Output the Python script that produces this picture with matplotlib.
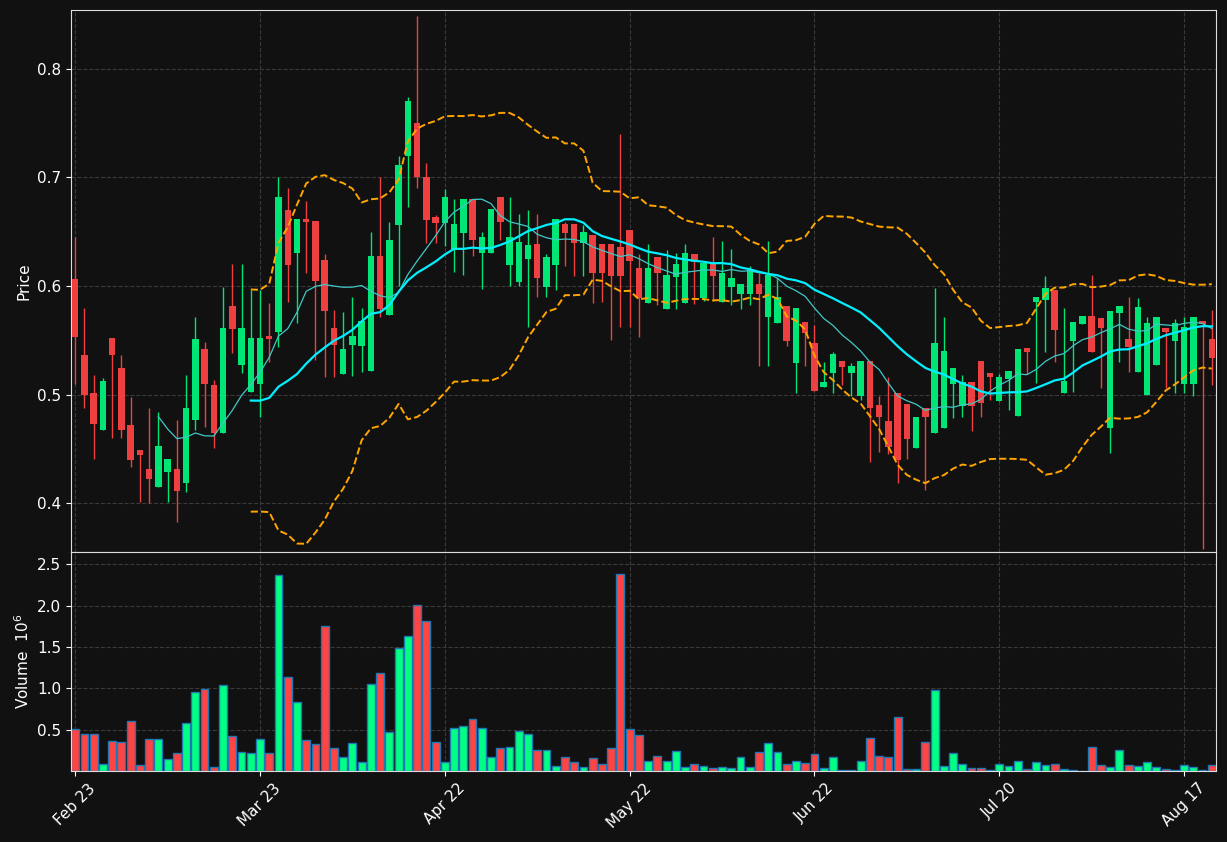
import matplotlib
matplotlib.use("Agg")
import matplotlib.pyplot as plt
import numpy as np
import pandas as pd

opens = [0.605,0.535,0.500,0.467,0.551,0.523,0.470,0.447,0.430,0.415,0.429,0.430,0.419,0.477,0.540,0.507,0.465,0.580,0.527,0.502,
         0.510,0.552,0.558,0.668,0.630,0.660,0.658,0.622,0.560,0.519,0.546,0.545,0.522,0.626,0.573,0.656,0.720,0.749,0.699,0.662,
         0.658,0.634,0.649,0.679,0.630,0.630,0.680,0.619,0.604,0.625,0.637,0.599,0.619,0.656,0.656,0.640,0.645,0.637,0.637,0.634,
         0.650,0.615,0.584,0.625,0.579,0.608,0.584,0.628,0.589,0.620,0.585,0.599,0.593,0.593,0.600,0.571,0.566,0.580,0.529,0.565,
         0.546,0.507,0.520,0.529,0.520,0.499,0.529,0.489,0.474,0.500,0.490,0.451,0.486,0.465,0.469,0.510,0.489,0.510,0.529,0.518,
         0.494,0.514,0.480,0.541,0.585,0.587,0.595,0.501,0.549,0.565,0.571,0.569,0.469,0.575,0.550,0.521,0.500,0.527,0.560,0.549,
         0.510,0.510,0.566,0.550]
closes = [0.553,0.500,0.473,0.511,0.536,0.467,0.440,0.444,0.422,0.451,0.439,0.411,0.486,0.550,0.510,0.465,0.560,0.560,0.560,0.551,
          0.551,0.551,0.680,0.619,0.660,0.659,0.605,0.577,0.546,0.540,0.552,0.566,0.626,0.579,0.641,0.710,0.769,0.700,0.661,0.658,
          0.680,0.656,0.679,0.642,0.644,0.669,0.659,0.644,0.639,0.636,0.607,0.625,0.660,0.649,0.640,0.648,0.612,0.612,0.609,0.609,
          0.623,0.589,0.615,0.612,0.609,0.619,0.629,0.622,0.620,0.609,0.610,0.606,0.600,0.614,0.593,0.609,0.588,0.549,0.578,0.557,
          0.503,0.510,0.536,0.525,0.525,0.529,0.488,0.479,0.452,0.440,0.459,0.478,0.479,0.546,0.539,0.523,0.510,0.489,0.492,0.516,
          0.515,0.520,0.540,0.539,0.588,0.597,0.559,0.511,0.565,0.571,0.539,0.561,0.575,0.580,0.544,0.579,0.564,0.570,0.558,0.564,
          0.561,0.570,0.565,0.534]
highs = [0.645,0.580,0.518,0.515,0.551,0.536,0.498,0.447,0.488,0.484,0.440,0.477,0.518,0.571,0.548,0.513,0.599,0.620,0.620,0.596,
         0.596,0.584,0.700,0.690,0.661,0.678,0.659,0.629,0.578,0.576,0.590,0.580,0.650,0.700,0.659,0.720,0.774,0.849,0.713,0.665,
         0.689,0.680,0.680,0.680,0.650,0.669,0.680,0.682,0.666,0.670,0.666,0.629,0.660,0.659,0.656,0.656,0.645,0.637,0.637,0.740,
         0.650,0.629,0.639,0.627,0.633,0.630,0.639,0.628,0.620,0.645,0.641,0.634,0.600,0.618,0.612,0.641,0.607,0.580,0.580,0.565,
         0.564,0.530,0.539,0.529,0.529,0.529,0.529,0.499,0.516,0.500,0.490,0.478,0.486,0.598,0.571,0.523,0.518,0.510,0.529,0.518,
         0.519,0.520,0.540,0.541,0.588,0.609,0.595,0.580,0.565,0.571,0.610,0.569,0.575,0.580,0.590,0.589,0.571,0.570,0.560,0.570,
         0.571,0.570,0.566,0.578]
lows = [0.510,0.488,0.441,0.467,0.460,0.460,0.433,0.401,0.400,0.415,0.401,0.383,0.410,0.467,0.470,0.451,0.465,0.538,0.520,0.502,
        0.479,0.530,0.544,0.585,0.566,0.612,0.532,0.516,0.516,0.519,0.517,0.521,0.522,0.571,0.573,0.600,0.673,0.690,0.640,0.640,
        0.637,0.613,0.610,0.628,0.597,0.630,0.642,0.600,0.600,0.562,0.590,0.590,0.596,0.618,0.609,0.609,0.584,0.585,0.550,0.562,
        0.562,0.553,0.584,0.582,0.579,0.579,0.584,0.583,0.586,0.586,0.585,0.582,0.579,0.582,0.526,0.526,0.566,0.545,0.501,0.526,
        0.503,0.507,0.501,0.509,0.499,0.495,0.438,0.447,0.445,0.419,0.441,0.451,0.412,0.465,0.469,0.478,0.479,0.466,0.479,0.495,
        0.494,0.486,0.480,0.519,0.511,0.539,0.530,0.501,0.502,0.565,0.539,0.506,0.446,0.530,0.521,0.521,0.500,0.527,0.506,0.501,
        0.501,0.499,0.358,0.509]
volumes = [0.506,0.445,0.445,0.081,0.360,0.348,0.603,0.069,0.385,0.385,0.142,0.215,0.579,0.955,0.992,0.045,1.040,0.421,0.227,0.215,
           0.385,0.215,2.376,1.138,0.834,0.372,0.324,1.757,0.275,0.166,0.336,0.105,1.053,1.186,0.470,1.490,1.636,2.012,1.818,0.348,
           0.105,0.518,0.543,0.628,0.518,0.166,0.275,0.287,0.482,0.445,0.251,0.251,0.057,0.166,0.105,0.045,0.154,0.081,0.275,2.389,
           0.506,0.433,0.117,0.178,0.117,0.239,0.045,0.081,0.057,0.032,0.045,0.032,0.166,0.045,0.227,0.336,0.227,0.081,0.117,0.093,
           0.202,0.032,0.166,0.010,0.010,0.117,0.397,0.178,0.166,0.652,0.020,0.020,0.348,0.980,0.057,0.215,0.081,0.032,0.032,0.010,
           0.081,0.057,0.117,0.020,0.105,0.069,0.081,0.020,0.010,0.005,0.287,0.069,0.045,0.251,0.069,0.057,0.105,0.045,0.020,0.010,
           0.069,0.045,0.010,0.069]
tick_idx = [0, 20, 40, 60, 80, 100, 120]
tick_labels = ["Feb 23", "Mar 23", "Apr 22", "May 22", "Jun 22", "Jul 20", "Aug 17"]

BG = "#111111"
GREEN_C, RED_C = "#00e676", "#ee4040"
GREEN_V, RED_V = "#00ff83", "#ff4444"

o = np.array(opens); c = np.array(closes); h = np.array(highs); l = np.array(lows); v = np.array(volumes)
x = np.arange(len(o))
up = c >= o

fig = plt.figure(figsize=(12.27, 8.42), dpi=100, facecolor=BG)
ax = fig.add_axes([0.0579, 0.3444, 0.9331, 0.6436], facecolor=BG)
axv = fig.add_axes([0.0579, 0.0843, 0.9331, 0.2601], facecolor=BG, sharex=ax)

for a in (ax, axv):
    a.grid(True, color="#3a3a3a", linestyle="--", linewidth=0.8)
    a.set_axisbelow(True)
    for s in a.spines.values():
        s.set_color("#dddddd")
    a.tick_params(colors="white", labelsize=11)

cols = np.where(up, GREEN_C, RED_C)
ax.vlines(x, l, h, colors=cols, linewidth=1, zorder=2)
ax.bar(x, np.abs(c - o) + 0.0015, bottom=np.minimum(o, c), width=0.7, color=cols, zorder=3)

cs = pd.Series(c)
sma10 = cs.rolling(10).mean()
sma20 = cs.rolling(20).mean()
std20 = cs.rolling(20).std()
ax.plot(x, sma10, color="#40c8c8", linewidth=0.9, zorder=4)
ax.plot(x, sma20, color="#00f0ff", linewidth=1.6, zorder=4)
ax.plot(x, sma20 + 2 * std20, color="orange", linestyle="--", linewidth=1.4, zorder=4)
ax.plot(x, sma20 - 2 * std20, color="orange", linestyle="--", linewidth=1.4, zorder=4)

ax.set_ylim(0.355, 0.854)
ax.set_yticks([0.4, 0.5, 0.6, 0.7, 0.8])
ax.set_ylabel("Price", color="white", fontsize=11)
ax.tick_params(axis="x", labelbottom=False)

axv.bar(x, v, width=0.85, color=np.where(up, GREEN_V, RED_V), edgecolor="#1f77b4", linewidth=1)
axv.set_ylim(0, 2.65)
axv.set_yticks([0.5, 1.0, 1.5, 2.0, 2.5])
axv.set_ylabel("Volume  $10^6$", color="white", fontsize=11)
axv.set_xlim(-0.45, 123.45)
axv.set_xticks(tick_idx)
axv.set_xticklabels(tick_labels, rotation=45, ha="center")

fig.savefig("out.png", dpi=100, facecolor=BG)
